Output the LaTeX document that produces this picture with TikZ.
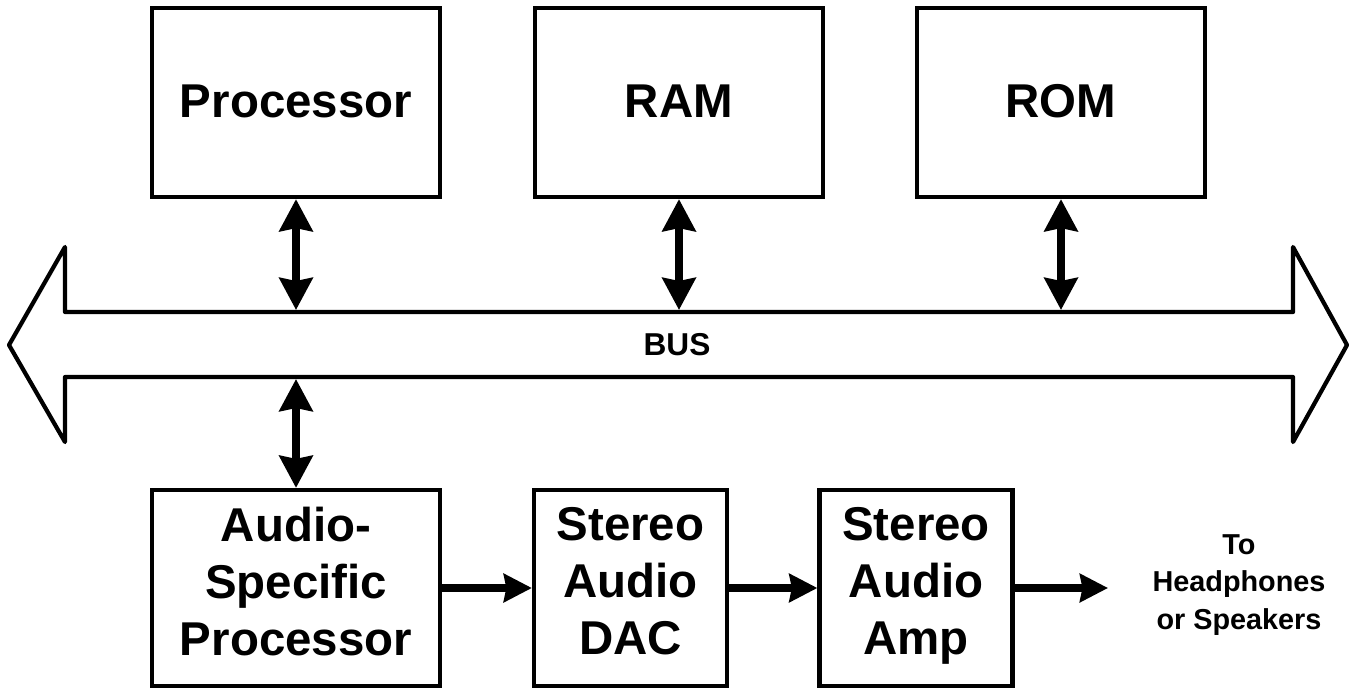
\documentclass[tikz,border=0pt]{standalone}
\usepackage{fontspec}
\setmainfont{Liberation Sans}
\usetikzlibrary{arrows.meta,positioning}

\begin{document}
\begin{tikzpicture}
	[x=0.2mm,y=-0.2mm,
	 block/.style={draw,line width=2.4pt,minimum width=5.76cm,minimum height=3.78cm,inner sep=0pt,align=center,font=\bfseries\fontsize{27}{32.4}\selectfont,
		execute at begin node={\rule{0pt}{25.2pt}},execute at end node={\rule[-7.7pt]{0pt}{0pt}}},
	 lowblock/.style={block,minimum height=3.92cm,execute at begin node={\rule{0pt}{21.8pt}}},
	 smallblock/.style={lowblock,minimum width=3.86cm},
	 busarrow/.style={line width=4.5pt,{Stealth[length=0.64cm,width=0.66cm,inset=0.06cm]}-{Stealth[length=0.64cm,width=0.66cm,inset=0.06cm]}},
	 flow/.style={line width=4.5pt,-{Stealth[length=0.56cm,width=0.56cm,inset=0.05cm]}}]

	\useasboundingbox (0,0) rectangle (1351,689);

	% the bus
	\draw[line width=2.4pt,line join=round] (9,345) -- (65,247) -- (65,312) -- (1293,312) -- (1293,247) -- (1347,345)
		-- (1293,442) -- (1293,377) -- (65,377) -- (65,442) -- cycle;
	\node[font=\bfseries\fontsize{18}{21}\selectfont] (bus) at (677,345) {BUS};

	\node[block] (proc) at (296,102.5) {Processor};
	\node[block] (ram) at (679,102.5) {RAM};
	\node[block] (rom) at (1061,102.5) {ROM};

	\node[lowblock] (asp) at (296,588) {Audio-\\Specific\\Processor};
	\node[smallblock] (dac) at (630.5,588) {Stereo\\Audio\\DAC};
	\node[smallblock] (amp) at (916,588) {Stereo\\Audio\\Amp};
	\node[align=center,font=\bfseries\fontsize{16.4}{21.5}\selectfont] (dest) at (1239,585) {To\\Headphones\\or Speakers};

	\coordinate (p-bus) at (296,310);
	\coordinate (r-bus) at (679,310);
	\coordinate (o-bus) at (1061,310);
	\coordinate (a-bus) at (296,379);
	\coordinate (out) at (1108,588);

	\draw[busarrow] (proc) -- (p-bus);
	\draw[busarrow] (ram) -- (r-bus);
	\draw[busarrow] (rom) -- (o-bus);
	\draw[busarrow] (asp) -- (a-bus);

	\draw[flow] (asp) -- (dac);
	\draw[flow] (dac) -- (amp);
	\draw[flow] (amp) -- (out);
\end{tikzpicture}
\end{document}
